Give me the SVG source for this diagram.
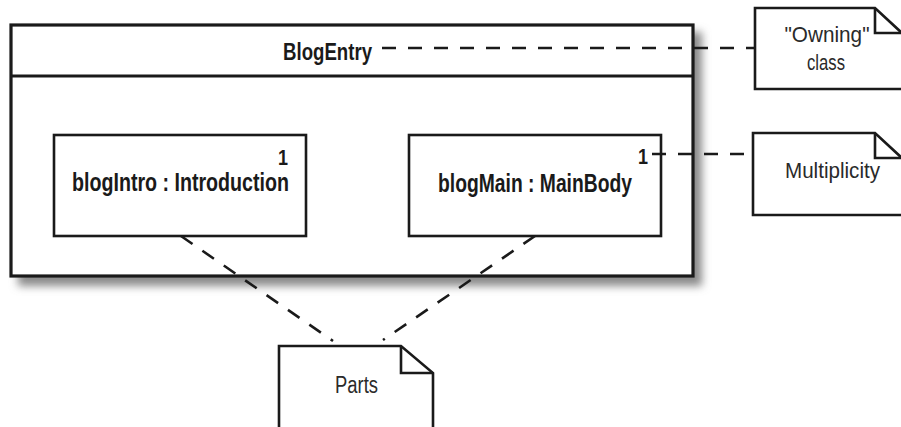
<svg xmlns="http://www.w3.org/2000/svg" width="901" height="427" viewBox="0 0 901 427">
<style>
.box{fill:#fff;stroke:#1a1a1a;stroke-width:2.6}
.main{fill:#fff;stroke:#1a1a1a;stroke-width:3.2}
.fold{fill:none;stroke:#1a1a1a;stroke-width:2.6;stroke-linejoin:miter}
.dash{fill:none;stroke:#1a1a1a;stroke-width:2.6;stroke-dasharray:14 12}
.b{font-family:"Liberation Sans",Arial,sans-serif;font-weight:bold;fill:#1a1a1a}
.r{font-family:"Liberation Sans",Arial,sans-serif;fill:#2a2a2a}
</style>
<defs>
<filter id="sh" x="-10%" y="-10%" width="120%" height="130%">
<feGaussianBlur stdDeviation="4"/>
</filter>
</defs>
<rect width="901" height="427" fill="#fff"/>
<g id="BlogEntry">
<rect x="18" y="32" width="684" height="254" fill="#8a8a8a" filter="url(#sh)"/>
<rect class="main" x="11" y="25" width="682" height="251"/>
<line x1="11" y1="76" x2="693" y2="76" stroke="#1a1a1a" stroke-width="3"/>
<text class="b" x="283" y="60" font-size="24" textLength="89" lengthAdjust="spacingAndGlyphs">BlogEntry</text>
</g>
<g id="blogIntro">
<rect class="box" x="54" y="135" width="252" height="101"/>
<text class="b" x="278" y="165" font-size="22" textLength="10" lengthAdjust="spacingAndGlyphs">1</text>
<text class="b" x="72" y="191" font-size="25" textLength="217" lengthAdjust="spacingAndGlyphs">blogIntro : Introduction</text>
</g>
<g id="blogMain">
<rect class="box" x="409" y="135" width="252" height="101"/>
<text class="b" x="638" y="164" font-size="22" textLength="10" lengthAdjust="spacingAndGlyphs">1</text>
<text class="b" x="438" y="192" font-size="25" textLength="194" lengthAdjust="spacingAndGlyphs">blogMain : MainBody</text>
</g>
<g id="connectors">
<line class="dash" x1="382" y1="48" x2="755" y2="48"/>
<line class="dash" x1="652" y1="154" x2="753" y2="154"/>
<line class="dash" x1="181" y1="236" x2="333" y2="341"/>
<line class="dash" x1="535" y1="236" x2="383" y2="340"/>
</g>
<g id="note-owning">
<path class="box" d="M755,8 H875 L903,34 V89 H755 Z"/>
<path class="fold" d="M875,8 V33 H903"/>
<text class="r" x="827" y="42" font-size="22" text-anchor="middle" textLength="85" lengthAdjust="spacingAndGlyphs">"Owning"</text>
<text class="r" x="826" y="70" font-size="22" text-anchor="middle" textLength="38" lengthAdjust="spacingAndGlyphs">class</text>
</g>
<g id="note-multiplicity">
<path class="box" d="M753,133 H875 L903,159 V215 H753 Z"/>
<path class="fold" d="M875,133 V158 H903"/>
<text class="r" x="785" y="178" font-size="22" textLength="95" lengthAdjust="spacingAndGlyphs">Multiplicity</text>
</g>
<g id="note-parts">
<path class="box" d="M279,346 H401 L433,373 V432 H279 Z"/>
<path class="fold" d="M401,346 V373 H433"/>
<text class="r" x="335" y="393" font-size="23" textLength="43" lengthAdjust="spacingAndGlyphs">Parts</text>
</g>
</svg>
